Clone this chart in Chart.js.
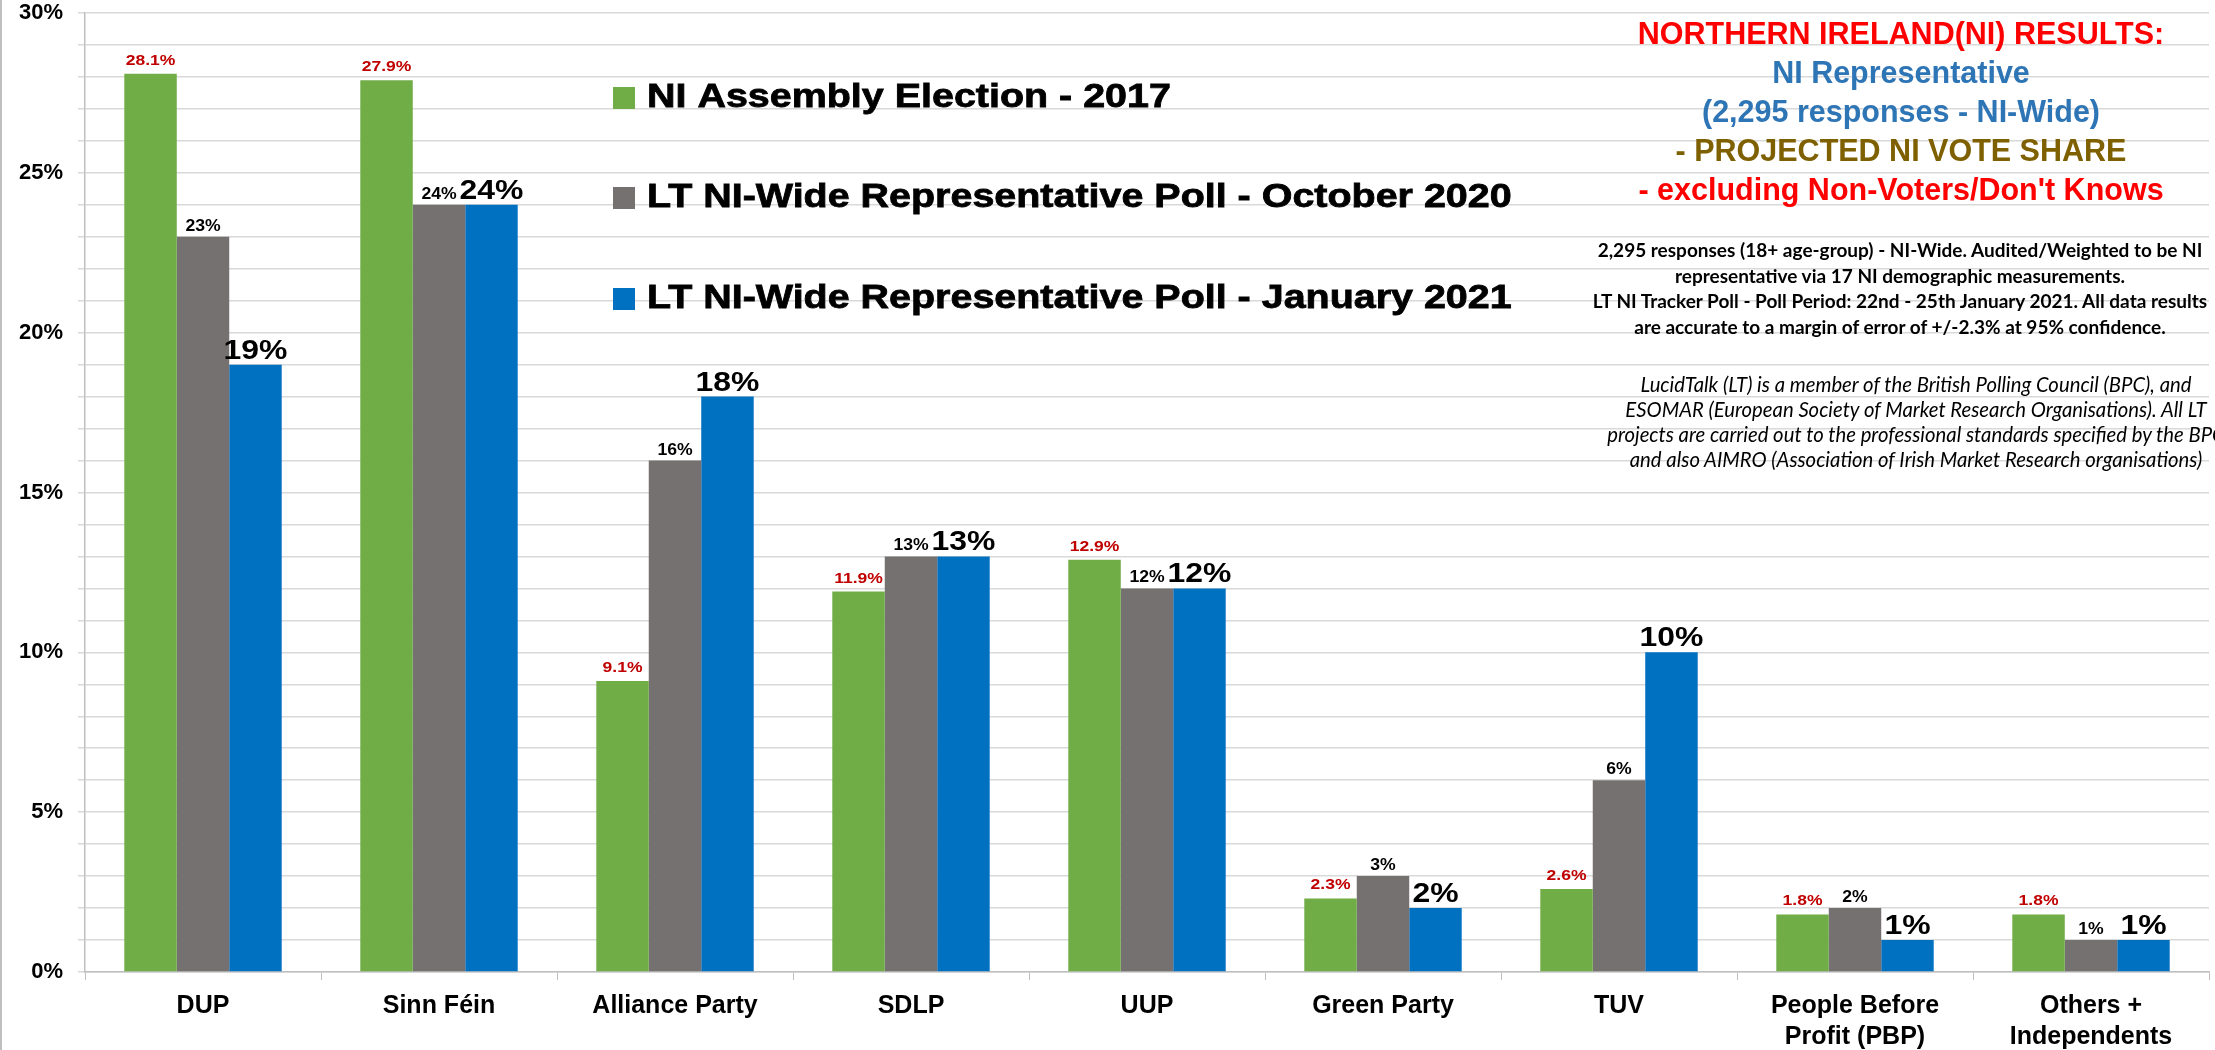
<!DOCTYPE html>
<html><head><meta charset="utf-8">
<script src="https://cdn.jsdelivr.net/npm/chart.js@4.4.1/dist/chart.umd.min.js"></script>
<style>
html,body{margin:0;padding:0;background:#fff;overflow:hidden;width:2215px;height:1050px;}
#wrap{position:relative;width:2215px;height:1050px;overflow:hidden;}
#c{position:absolute;left:0;top:0;}
#frame{position:absolute;left:0;top:0;width:2px;height:1050px;background:#BFBFBF;}
.notes{position:absolute;white-space:nowrap;text-align:center;}
#head{left:1501px;width:800px;top:14px;font-family:'Liberation Sans',Arial,sans-serif;font-weight:bold;font-size:30.5px;line-height:39px;}
#p1{left:1500px;width:800px;top:237px;font-family:Lato,'Liberation Sans',sans-serif;font-weight:bold;font-size:19px;line-height:25.7px;color:#000;}
#p2{left:1516px;width:800px;top:372px;font-family:Lato,'Liberation Sans',sans-serif;font-style:italic;font-size:20.3px;line-height:25px;color:#000;}
</style>
</head><body>
<div id="wrap">
<canvas id="c" width="2215" height="1050"></canvas>
<div id="frame"></div>
<div id="head" class="notes"><span style="color:#FF0000">NORTHERN IRELAND(NI) RESULTS:</span><br><span style="color:#2E75B6">NI Representative</span><br><span style="color:#2E75B6">(2,295 responses - NI-Wide)</span><br><span style="color:#7F6000">- PROJECTED NI VOTE SHARE</span><br><span style="color:#FF0000">- excluding Non-Voters/Don't Knows</span></div>
<div id="p1" class="notes">2,295 responses (18+ age-group) - NI-Wide. Audited/Weighted to be NI<br>representative via 17 NI demographic measurements.<br>LT NI Tracker Poll - Poll Period: 22nd - 25th January 2021. All data results<br>are accurate to a margin of error of +/-2.3% at 95% confidence.</div>
<div id="p2" class="notes">LucidTalk (LT) is a member of the British Polling Council (BPC), and<br>ESOMAR (European Society of Market Research Organisations). All LT<br>projects are carried out to the professional standards specified by the BPC<br>and also AIMRO (Association of Irish Market Research organisations)</div>
</div>
<script>
const categories = ['DUP', 'Sinn Féin', 'Alliance Party', 'SDLP', 'UUP', 'Green Party', 'TUV', ['People Before', 'Profit (PBP)'], ['Others +', 'Independents']];
const seriesNames = ['NI Assembly Election - 2017', 'LT NI-Wide Representative Poll - October 2020', 'LT NI-Wide Representative Poll - January 2021'];
const election2017 = [28.1, 27.9, 9.1, 11.9, 12.9, 2.3, 2.6, 1.8, 1.8];
const pollOct2020 = [23, 24, 16, 13, 12, 3, 6, 2, 1];
const pollJan2021 = [19, 24, 18, 13, 12, 2, 10, 1, 1];
const yTickLabels = [0, 5, 10, 15, 20, 25, 30];

const FONT = "'Liberation Sans', Arial, sans-serif";

function drawStretched(ctx, text, x, y, sx, align, stroke) {
  ctx.save();
  ctx.translate(x, y);
  ctx.scale(sx, 1);
  ctx.textAlign = align;
  ctx.textBaseline = 'alphabetic';
  ctx.fillText(text, 0, 0);
  if (stroke) {
    ctx.strokeStyle = ctx.fillStyle;
    ctx.lineWidth = stroke;
    ctx.strokeText(text, 0, 0);
  }
  ctx.restore();
}

const labelStyles = [
  {size: 15.5, color: '#C00000', gap: 9, sx: 1.13, fmt: v => v.toFixed(1) + '%'},
  {size: 16, color: '#000000', gap: 6, sx: 1.1, fmt: v => v + '%'},
  {size: 28, color: '#000000', gap: 6, sx: 1.14, fmt: v => v + '%'}
];

const barLabelPlugin = {
  id: 'barLabels',
  afterDatasetsDraw(chart) {
    const ctx = chart.ctx;
    chart.data.datasets.forEach((ds, i) => {
      const st = labelStyles[i];
      const meta = chart.getDatasetMeta(i);
      ctx.save();
      ctx.font = 'bold ' + st.size + 'px ' + FONT;
      ctx.fillStyle = st.color;
      meta.data.forEach((bar, j) => {
        drawStretched(ctx, st.fmt(ds.data[j]), bar.x, bar.y - st.gap, st.sx, 'center', 0);
      });
      ctx.restore();
    });
  }
};

const legendPlugin = {
  id: 'inLegend',
  afterDatasetsDraw(chart, args, opts) {
    const ctx = chart.ctx;
    ctx.save();
    ctx.font = 'bold ' + opts.size + 'px ' + FONT;
    chart.data.datasets.forEach((ds, i) => {
      const base = opts.baselines[i];
      ctx.fillStyle = ds.backgroundColor;
      ctx.fillRect(opts.boxX, base - 20, opts.box, opts.box);
      ctx.fillStyle = '#000';
      drawStretched(ctx, ds.label, opts.textX, base, opts.sx, 'left', 0.8);
    });
    ctx.restore();
  }
};

new Chart(document.getElementById('c'), {
  type: 'bar',
  data: {
    labels: categories,
    datasets: [
      {label: seriesNames[0], data: election2017, backgroundColor: '#70AD47'},
      {label: seriesNames[1], data: pollOct2020, backgroundColor: '#767171'},
      {label: seriesNames[2], data: pollJan2021, backgroundColor: '#0070C0'}
    ].map(d => Object.assign(d, {categoryPercentage: 0.667, barPercentage: 1.0, borderWidth: 0}))
  },
  options: {
    responsive: false,
    devicePixelRatio: 1,
    animation: false,
    layout: {padding: {top: 13, right: 6, left: 0, bottom: 0}},
    plugins: {
      legend: {display: false},
      tooltip: {enabled: false},
      inLegend: {boxX: 613, textX: 647, box: 22, baselines: [107, 207, 308], size: 34, sx: 1.16}
    },
    scales: {
      x: {
        grid: {display: true, drawOnChartArea: false, color: '#BFBFBF', tickLength: 8, offset: true},
        border: {color: '#BFBFBF', width: 1.5},
        ticks: {color: '#000', font: {family: FONT, size: 25, weight: 'bold', lineHeight: 1.25}, padding: 10, maxRotation: 0, autoSkip: false},
        afterFit(scale) { scale.height = 78; scale.paddingLeft = 0; scale.paddingRight = 0; }
      },
      y: {
        min: 0, max: 30,
        grid: {color: '#D9D9D9', lineWidth: 1.5, tickLength: 7},
        border: {color: '#BFBFBF', width: 1.5},
        ticks: {
          stepSize: 1,
          color: '#000',
          padding: 15,
          font: {family: FONT, size: 22, weight: 'bold'},
          callback: v => yTickLabels.includes(v) ? v + '%' : ''
        },
        afterFit(scale) { scale.width = 85; scale.paddingTop = 0; scale.paddingBottom = 0; }
      }
    }
  },
  plugins: [barLabelPlugin, legendPlugin]
});
</script>
</body></html>
